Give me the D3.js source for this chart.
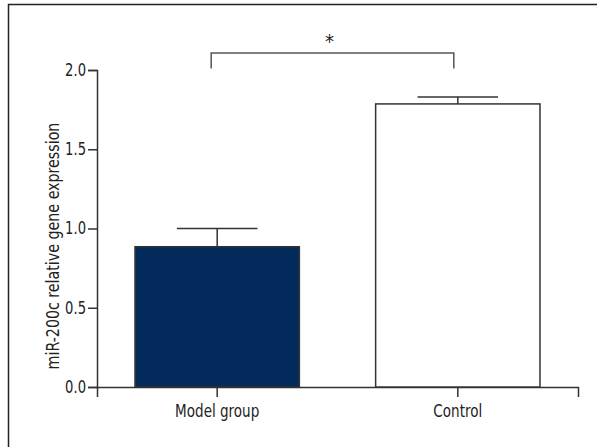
<!DOCTYPE html>
<html>
<head>
<meta charset="utf-8">
<script src="https://cdn.jsdelivr.net/npm/d3@7"></script>
<style>
  body { margin: 0; background: #fff; }
  svg text { font-family: "DejaVu Sans Condensed", "Liberation Sans Narrow", sans-serif; fill: #222; }
</style>
</head>
<body>
<div id="chart"></div>
<script>
// values
var groups = ["Model group", "Control"];
var means = [0.885, 1.786];
var errors = [0.115, 0.044];
var yTicks = [0.0, 0.5, 1.0, 1.5, 2.0];
var barColors = ["#022a5a", "#ffffff"];
var yLabel = "miR-200c relative gene expression";
var sigLabel = "*";

var width = 597, height = 447;
var lineColor = "#333";
var squeeze = 0.86;   // original uses a condensed face, narrow the glyphs a bit

var svg = d3.select("#chart")
    .append("svg")
    .attr("width", width)
    .attr("height", height);

// outer frame (only top and left edges visible in the original)
svg.append("rect")
    .attr("x", 8.5)
    .attr("y", 4.5)
    .attr("width", 620)
    .attr("height", 470)
    .attr("fill", "none")
    .attr("stroke", "#222")
    .attr("stroke-width", 1.5);

var xScale = d3.scaleBand().domain(groups).range([97, 578])
        .paddingInner(0.317).paddingOuter(0.158),
    yScale = d3.scaleLinear().domain([0, 2]).range([387, 70]);

// y axis
var yAxis = svg.append("g")
    .attr("transform", "translate(97,0)")
    .call(d3.axisLeft(yScale).tickValues(yTicks).tickFormat(d3.format(".1f")).tickSizeOuter(0).tickSize(9).tickPadding(2));

// x axis
var xAxis = svg.append("g")
    .attr("transform", "translate(0,387)")
    .call(d3.axisBottom(xScale).tickSizeOuter(0).tickSize(10).tickPadding(8));

[yAxis, xAxis].forEach(function (a) {
    a.select(".domain").attr("stroke", lineColor).attr("stroke-width", 1.5);
    a.selectAll(".tick line").attr("stroke", lineColor).attr("stroke-width", 1.5);
    a.selectAll(".tick text")
        .attr("font-size", 17)
        .attr("fill", "#222")
        .attr("font-family", null)
        .attr("transform", "scale(" + squeeze + ",1)");
});
yAxis.selectAll(".tick text").attr("x", -11 / squeeze);
xAxis.selectAll(".tick text").attr("font-size", 17.5);

// bars
svg.selectAll(".bar")
    .data(groups)
    .enter().append("rect")
    .attr("class", "bar")
    .attr("x", function (d) { return xScale(d); })
    .attr("y", function (d, i) { return yScale(means[i]); })
    .attr("width", xScale.bandwidth())
    .attr("height", function (d, i) { return yScale(0) - yScale(means[i]); })
    .attr("fill", function (d, i) { return barColors[i]; })
    .attr("stroke", lineColor)
    .attr("stroke-width", 1.5);

// error bars (upper only)
var capHalf = xScale.bandwidth() * 0.245;
var eb = svg.selectAll(".err")
    .data(groups)
    .enter().append("g")
    .attr("class", "err");
eb.append("line")
    .attr("x1", function (d) { return xScale(d) + xScale.bandwidth() / 2; })
    .attr("x2", function (d) { return xScale(d) + xScale.bandwidth() / 2; })
    .attr("y1", function (d, i) { return yScale(means[i]); })
    .attr("y2", function (d, i) { return yScale(means[i] + errors[i]); })
    .attr("stroke", lineColor).attr("stroke-width", 1.5);
eb.append("line")
    .attr("x1", function (d) { return xScale(d) + xScale.bandwidth() / 2 - capHalf; })
    .attr("x2", function (d) { return xScale(d) + xScale.bandwidth() / 2 + capHalf; })
    .attr("y1", function (d, i) { return yScale(means[i] + errors[i]); })
    .attr("y2", function (d, i) { return yScale(means[i] + errors[i]); })
    .attr("stroke", lineColor).attr("stroke-width", 1.5);

// significance bracket
var bx1 = xScale(groups[0]) + xScale.bandwidth() / 2 - 6,
    bx2 = xScale(groups[1]) + xScale.bandwidth() / 2 - 4,
    bTop = yScale(2.107), bBottom = yScale(2.01);
svg.append("path")
    .attr("d", "M" + bx1 + "," + bBottom + "V" + bTop + "H" + bx2 + "V" + bBottom)
    .attr("fill", "none")
    .attr("stroke", "#555")
    .attr("stroke-width", 1.5);
svg.append("text")
    .attr("x", (bx1 + bx2) / 2 - 3)
    .attr("y", 48)
    .attr("text-anchor", "middle")
    .attr("font-size", 20)
    .text(sigLabel);

// y label
svg.append("text")
    .attr("transform", "translate(59,246) rotate(-90) scale(0.88,1)")
    .attr("text-anchor", "middle")
    .attr("font-size", 18)
    .text(yLabel);
</script>
</body>
</html>
